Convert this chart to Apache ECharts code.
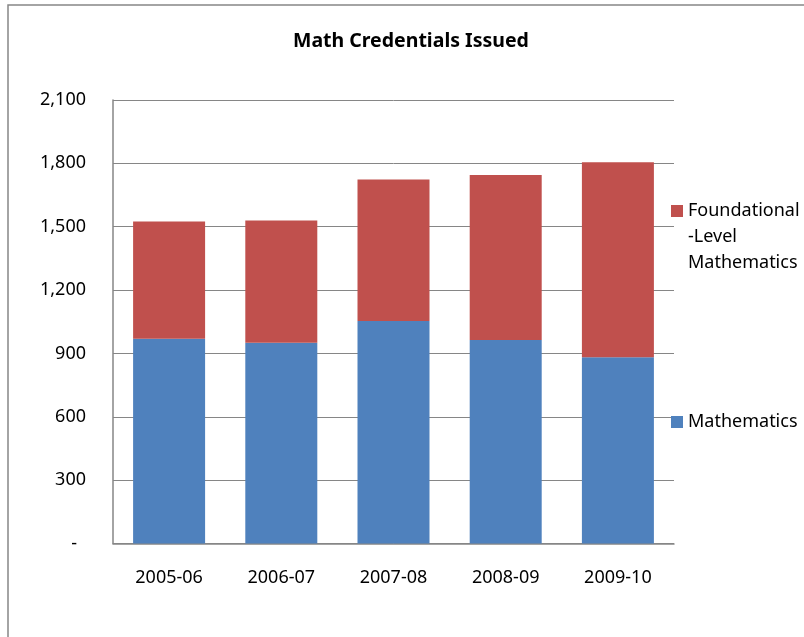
<!DOCTYPE html>
<html>
<head>
<meta charset="utf-8">
<script src="https://cdn.jsdelivr.net/npm/echarts@6/dist/echarts.min.js"></script>
<style>
html,body{margin:0;padding:0;background:#fff;}
#chart{width:804px;height:637px;}
</style>
</head>
<body>
<div id="chart"></div>
<script>
var titleText = 'Math Credentials Issued';
var categories = ['2005-06', '2006-07', '2007-08', '2008-09', '2009-10'];
var mathematics = [969, 950, 1053, 963, 882];
var foundational = [556, 579, 671, 782, 923];
var nameMath = 'Mathematics';
var nameFound = 'Foundational-Level Mathematics';
var foundLines = ['Foundational', '-Level', 'Mathematics'];

var FONT = '"Noto Sans", "DejaVu Sans", sans-serif';
var chart = echarts.init(document.getElementById('chart'), null, {renderer: 'canvas'});

function fmt(v) {
  if (v === 0) return '{z|-}';
  return v.toLocaleString('en-US');
}

var legendBase = {
  orient: 'vertical',
  left: 671,
  padding: 0,
  itemWidth: 12,
  itemHeight: 12,
  icon: 'rect',
  selectedMode: false
};

chart.setOption({
  backgroundColor: '#ffffff',
  animation: false,
  textStyle: {fontFamily: FONT},
  graphic: [{
    type: 'rect',
    shape: {x: 8, y: 5, width: 820, height: 660},
    style: {fill: 'none', stroke: '#878787', lineWidth: 1.5},
    silent: true
  }],
  title: {
    text: titleText,
    left: 293,
    top: 31,
    padding: 0,
    textStyle: {fontFamily: FONT, fontSize: 19.5, fontWeight: 'bold', color: '#000'}
  },
  legend: [
    Object.assign({}, legendBase, {
      top: 146,
      data: [nameFound],
      formatter: function () {
        return foundLines.map(function (s) { return '{a|' + s + '}'; }).join('\n');
      },
      textStyle: {
        fontFamily: FONT, fontSize: 18, color: '#000', lineHeight: 26,
        padding: [52, 0, 0, 0],
        rich: {a: {fontFamily: FONT, fontSize: 18, color: '#000', lineHeight: 26}}
      }
    }),
    Object.assign({}, legendBase, {
      top: 409,
      data: [nameMath],
      textStyle: {fontFamily: FONT, fontSize: 18, color: '#000', lineHeight: 26}
    })
  ],
  grid: {left: 113, right: 130, top: 100, bottom: 93.5, containLabel: false},
  xAxis: {
    type: 'category',
    data: categories,
    axisLine: {lineStyle: {color: '#868686', width: 1.5}},
    axisTick: {show: false},
    axisLabel: {color: '#000', fontSize: 18, fontFamily: FONT, margin: 25}
  },
  yAxis: {
    type: 'value',
    min: 0,
    max: 2100,
    interval: 300,
    axisLine: {show: true, lineStyle: {color: '#868686', width: 1.5}},
    axisTick: {show: false},
    splitLine: {lineStyle: {color: '#868686', width: 1}},
    axisLabel: {
      color: '#000', fontSize: 18, fontFamily: FONT, margin: 27,
      formatter: fmt,
      rich: {z: {fontSize: 18, fontFamily: FONT, color: '#000', padding: [0, 9, 0, 0]}}
    }
  },
  series: [{
    name: nameMath,
    type: 'bar',
    stack: 'total',
    barWidth: 72,
    data: mathematics,
    itemStyle: {color: '#4F81BD'}
  }, {
    name: nameFound,
    type: 'bar',
    stack: 'total',
    barWidth: 72,
    data: foundational,
    itemStyle: {color: '#C0504D'}
  }]
});
</script>
</body>
</html>
